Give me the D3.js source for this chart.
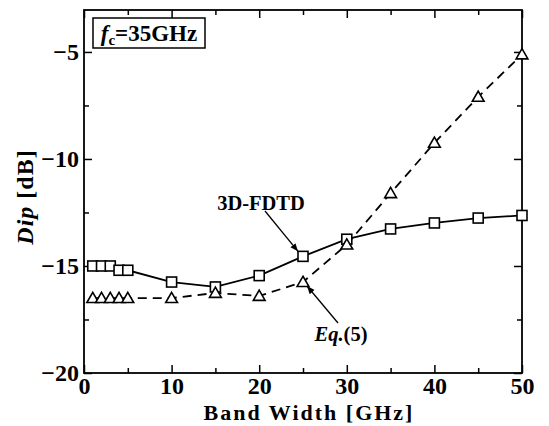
<!DOCTYPE html>
<html>
<head>
<meta charset="utf-8">
<script src="https://cdn.jsdelivr.net/npm/d3@7"></script>
<style>
  html, body { margin: 0; padding: 0; background: #fff; }
  svg text { font-family: "Liberation Serif", "Times New Roman", serif; font-weight: bold; fill: #000; }
</style>
</head>
<body>
<svg id="chart" width="549" height="426"></svg>
<script>
// Band width sweep [GHz]
const bandWidth = [1, 2, 3, 4, 5, 10, 15, 20, 25, 30, 35, 40, 45, 50];
// Dip [dB] from 3D-FDTD simulation
const dipFDTD = [-15.0, -15.0, -15.0, -15.2, -15.2, -15.75, -15.98, -15.45, -14.55, -13.75, -13.27, -12.99, -12.76, -12.64];
// Dip [dB] from Eq.(5)
const dipEq5 = [-16.5, -16.5, -16.5, -16.5, -16.5, -16.5, -16.26, -16.4, -15.75, -14.0, -11.6, -9.25, -7.1, -5.12];

const xMajorTicks = [0, 10, 20, 30, 40, 50];
const xMinorTicks = [5, 15, 25, 35, 45];
const yMajorTicks = [-20, -15, -10, -5];
const yMinorTicks = [-17.5, -12.5, -7.5];

const margin = { left: 84, right: 27, top: 10, bottom: 53 };
const W = 549, H = 426;
const iw = W - margin.left - margin.right;
const ih = H - margin.top - margin.bottom;

const svg = d3.select("#chart");
const g = svg.append("g").attr("transform", `translate(${margin.left},${margin.top})`);

const x = d3.scaleLinear().domain([0, 50]).range([0, iw]);
const y = d3.scaleLinear().domain([-20, -3.04]).range([ih, 0]);

// Axes with inward ticks on all four sides
function tickAxis(axisFn, scale, ticks, len, fmt) {
  return axisFn(scale).tickValues(ticks).tickSizeInner(-len).tickSizeOuter(0).tickFormat(fmt);
}
const noLabel = () => "";

const bottom = g.append("g").attr("transform", `translate(0,${ih})`)
  .call(tickAxis(d3.axisBottom, x, xMajorTicks, 8, d3.format("d")));
g.append("g").attr("transform", `translate(0,${ih})`)
  .call(tickAxis(d3.axisBottom, x, xMinorTicks, 5, noLabel));
g.append("g").call(tickAxis(d3.axisTop, x, xMajorTicks, 8, noLabel));
g.append("g").call(tickAxis(d3.axisTop, x, xMinorTicks, 5, noLabel));

const left = g.append("g")
  .call(tickAxis(d3.axisLeft, y, yMajorTicks, 8, d3.format("d")));
g.append("g").call(tickAxis(d3.axisLeft, y, yMinorTicks, 5, noLabel));
g.append("g").attr("transform", `translate(${iw},0)`)
  .call(tickAxis(d3.axisRight, y, yMajorTicks, 8, noLabel));
g.append("g").attr("transform", `translate(${iw},0)`)
  .call(tickAxis(d3.axisRight, y, yMinorTicks, 5, noLabel));

g.selectAll("g").attr("font-family", null).attr("font-size", null);
g.selectAll(".domain").remove();
g.selectAll(".tick line").attr("stroke", "#000").attr("stroke-width", 1.5);

bottom.selectAll(".tick text")
  .attr("font-size", 24).attr("dy", 0).attr("y", 21);
left.selectAll(".tick text")
  .attr("font-size", 24).attr("x", -5).attr("dy", "0.33em");

// Frame
g.append("rect").attr("x", 0).attr("y", 0).attr("width", iw).attr("height", ih)
  .attr("fill", "none").attr("stroke", "#000").attr("stroke-width", 1.8);

// Lines
const fdtdPts = bandWidth.map((b, i) => [b, dipFDTD[i]]);
const eqPts = bandWidth.map((b, i) => [b, dipEq5[i]]);
const line = d3.line().x(d => x(d[0])).y(d => y(d[1]));

g.append("path").datum(eqPts).attr("d", line)
  .attr("fill", "none").attr("stroke", "#000").attr("stroke-width", 1.8)
  .attr("stroke-dasharray", "9,6");
g.append("path").datum(fdtdPts).attr("d", line)
  .attr("fill", "none").attr("stroke", "#000").attr("stroke-width", 1.8);

// Markers
const sq = 10;
g.selectAll(".sq").data(fdtdPts).enter().append("rect")
  .attr("x", d => x(d[0]) - sq / 2).attr("y", d => y(d[1]) - sq / 2)
  .attr("width", sq).attr("height", sq)
  .attr("fill", "#fff").attr("stroke", "#000").attr("stroke-width", 1.6);

const tri = d3.symbol().type(d3.symbolTriangle).size(60);
g.selectAll(".tri").data(eqPts).enter().append("path")
  .attr("d", tri)
  .attr("transform", d => `translate(${x(d[0])},${y(d[1]) + 1})`)
  .attr("fill", "#fff").attr("stroke", "#000").attr("stroke-width", 1.6);

// Annotation arrows
svg.append("defs").append("marker")
  .attr("id", "arrow").attr("viewBox", "0 0 10 10").attr("refX", 10).attr("refY", 5)
  .attr("markerWidth", 8).attr("markerHeight", 8).attr("markerUnits", "userSpaceOnUse")
  .attr("orient", "auto")
  .append("path").attr("d", "M0,1 L10,5 L0,9 Z").attr("fill", "#000");

function arrow(x1, y1, x2, y2) {
  svg.append("line").attr("x1", x1).attr("y1", y1).attr("x2", x2).attr("y2", y2)
    .attr("stroke", "#000").attr("stroke-width", 1.3).attr("marker-end", "url(#arrow)");
}
// 3D-FDTD label points to the 25 GHz square
const fx = margin.left + x(25), fy = margin.top + y(dipFDTD[8]);
svg.append("text").attr("x", 261).attr("y", 210).attr("text-anchor", "middle")
  .attr("font-size", 20.5).text("3D-FDTD");
arrow(265, 211, fx - 5, fy - 5);

// Eq.(5) label points to the 25 GHz triangle
const ex = margin.left + x(25), ey = margin.top + y(dipEq5[8]);
const eqText = svg.append("text").attr("x", 341).attr("y", 341).attr("text-anchor", "middle")
  .attr("font-size", 20.5);
eqText.append("tspan").attr("font-style", "italic").text("Eq.");
eqText.append("tspan").text("(5)");
arrow(338, 323, ex + 4, ey + 4);

// Centre-frequency box
svg.append("rect").attr("x", 93).attr("y", 18).attr("width", 112).attr("height", 30)
  .attr("fill", "#fff").attr("stroke", "#000").attr("stroke-width", 1.5);
const fc = svg.append("text").attr("x", 149).attr("y", 41).attr("text-anchor", "middle")
  .attr("font-size", 23);
fc.append("tspan").attr("font-style", "italic").text("f");
fc.append("tspan").attr("font-size", 15).attr("dy", 4).text("c");
fc.append("tspan").attr("dy", -4).text("=35GHz");

// Axis titles
svg.append("text").attr("x", margin.left + iw / 2 + 6).attr("y", 420).attr("text-anchor", "middle")
  .attr("font-size", 22).attr("letter-spacing", 2).text("Band Width [GHz]");
const yt = svg.append("text").attr("transform", `translate(33,197) rotate(-90)`)
  .attr("text-anchor", "middle").attr("font-size", 24).attr("letter-spacing", 1);
yt.append("tspan").attr("font-style", "italic").text("Dip");
yt.append("tspan").text(" [dB]");
</script>
</body>
</html>
